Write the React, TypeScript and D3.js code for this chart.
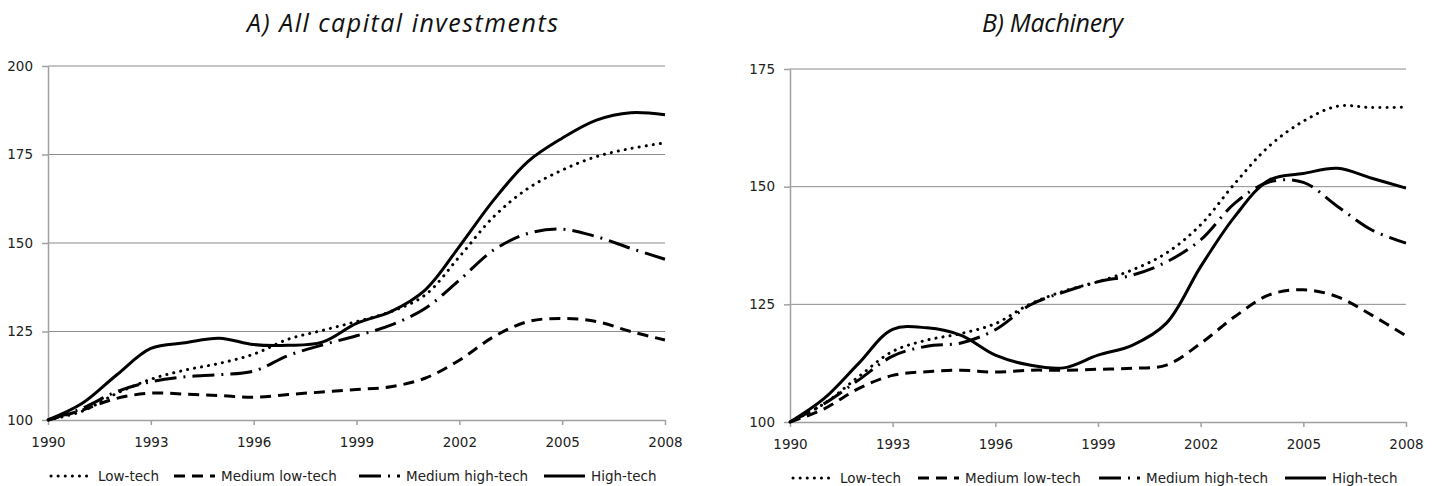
import React, { useEffect, useRef } from 'react';
import * as d3 from 'd3';

// years on the x axis
const years = [1990, 1991, 1992, 1993, 1994, 1995, 1996, 1997, 1998, 1999, 2000, 2001, 2002, 2003, 2004, 2005, 2006, 2007, 2008];
const yearTicks = [1990, 1993, 1996, 1999, 2002, 2005, 2008];

const seriesNames = ['Low-tech', 'Medium low-tech', 'Medium high-tech', 'High-tech'];

// A) All capital investments (index, 1990 = 100)
const allLowTech = [100, 102.5, 107.5, 111.5, 114.1, 116, 118.6, 122.8, 125.3, 127.8, 130.6, 135.3, 146.1, 157.4, 165.4, 170.6, 174.4, 176.7, 178.3];
const allMedLowTech = [100, 102.8, 106.1, 107.6, 107.3, 106.9, 106.4, 107.2, 107.9, 108.6, 109.4, 111.8, 116.9, 123.5, 127.8, 128.7, 127.8, 125, 122.6];
const allMedHighTech = [100, 103.3, 108, 110.8, 112.2, 112.8, 113.8, 118.2, 121.2, 123.8, 126.8, 131.5, 139.5, 148, 152.7, 153.9, 151.8, 148.5, 145.4];
const allHighTech = [100, 104.7, 112.7, 120.2, 121.8, 123.1, 121.3, 121.1, 122, 127.3, 130.6, 136.7, 149, 162.1, 173, 179.6, 184.7, 186.8, 186.2];
const allTicks = [100, 125, 150, 175, 200];

// B) Machinery (index, 1990 = 100)
const machLowTech = [100, 103.9, 109.6, 115, 117.4, 118.8, 120.9, 125, 127.8, 129.8, 132.3, 135.9, 141.9, 150.7, 158.6, 163.9, 167.1, 166.8, 166.9];
const machMedLowTech = [100, 102.8, 107.1, 109.9, 110.7, 111, 110.6, 111, 111, 111.2, 111.4, 112.1, 116.7, 122.4, 127, 128.1, 126.6, 122.7, 118.3];
const machMedHighTech = [100, 103.9, 108.9, 114, 116.1, 116.8, 119.6, 124.8, 127.6, 129.8, 131.2, 134, 138.7, 146.5, 151, 150.9, 145.8, 140.8, 138];
const machHighTech = [100, 105, 112.4, 119.7, 120, 118.4, 114.2, 112.1, 111.5, 114.2, 116.3, 121, 133, 143.7, 151.4, 152.8, 153.9, 151.8, 149.7];
const machTicks = [100, 125, 150, 175];

const dashes = ['0.1 7', '11 7', '22 7 2 7', null];

const panels = [
  {
    title: 'A) All capital investments', titleX: 247, titleW: 311,
    left: 48, right: 665, top: 66, bottom: 420,
    ticks: allTicks, series: [allLowTech, allMedLowTech, allMedHighTech, allHighTech],
    legendY: 476, legendX: [50, 173, 358, 543],
  },
  {
    title: 'B) Machinery', titleX: 982, titleW: 141,
    left: 790, right: 1406, top: 69, bottom: 422,
    ticks: machTicks, series: [machLowTech, machMedLowTech, machMedHighTech, machHighTech],
    legendY: 478, legendX: [792, 917, 1098, 1284],
  },
];

const labelFont = '"DejaVu Sans", Verdana, sans-serif';

const App = () => {
  const ref = useRef<SVGSVGElement>(null);

  useEffect(() => {
    if (!ref.current) return;
    const svg = d3.select(ref.current);
    svg.selectAll('*').remove();

    panels.forEach(p => {
      const x = d3.scaleLinear().domain([years[0], years[years.length - 1]]).range([p.left, p.right]);
      const y = d3.scaleLinear().domain([p.ticks[0], p.ticks[p.ticks.length - 1]]).range([p.bottom, p.top]);
      const g = svg.append('g');

      // title
      g.append('text')
        .attr('x', p.titleX)
        .attr('y', 32)
        .attr('textLength', p.titleW)
        .attr('lengthAdjust', 'spacing')
        .style('font-family', '"Open Sans", sans-serif')
        .style('font-style', 'italic')
        .style('font-size', '25px')
        .style('fill', '#111')
        .text(p.title);

      // gridlines
      g.selectAll('line.grid')
        .data(p.ticks.slice(1))
        .join('line')
        .attr('x1', p.left)
        .attr('x2', p.right)
        .attr('y1', d => y(d))
        .attr('y2', d => y(d))
        .attr('stroke', '#8c8c8c')
        .attr('stroke-width', 1);

      // axes
      const yAxis = g.append('g')
        .attr('transform', `translate(${p.left},0)`)
        .call(d3.axisLeft(y).tickValues(p.ticks).tickSize(6).tickSizeOuter(0).tickPadding(9).tickFormat(d3.format('d')));
      const xAxis = g.append('g')
        .attr('transform', `translate(0,${p.bottom})`)
        .call(d3.axisBottom(x).tickValues(yearTicks).tickSize(5).tickSizeOuter(0).tickPadding(12).tickFormat(d3.format('d')));

      [yAxis, xAxis].forEach(a => {
        a.selectAll('path, line').attr('stroke', '#a0a0a0').attr('stroke-width', 1.5);
        a.selectAll('text')
          .style('font-family', labelFont)
          .style('font-size', '13.5px')
          .style('fill', '#222');
      });

      // lines
      const line = d3.line<number>()
        .x((_, i) => x(years[i]))
        .y(d => y(d))
        .curve(d3.curveCatmullRom.alpha(0.5));

      p.series.forEach((s, i) => {
        g.append('path')
          .datum(s)
          .attr('d', line)
          .attr('fill', 'none')
          .attr('stroke', '#000')
          .attr('stroke-width', 3)
          .attr('stroke-linecap', i === 0 ? 'round' : 'butt')
          .attr('stroke-dasharray', dashes[i]);
      });

      // legend
      seriesNames.forEach((name, i) => {
        const lx = p.legendX[i];
        g.append('line')
          .attr('x1', lx + 1)
          .attr('x2', lx + 42)
          .attr('y1', p.legendY)
          .attr('y2', p.legendY)
          .attr('stroke', '#000')
          .attr('stroke-width', 3)
          .attr('stroke-linecap', i === 0 ? 'round' : 'butt')
          .attr('stroke-dasharray', dashes[i]);
        g.append('text')
          .attr('x', lx + 48)
          .attr('y', p.legendY)
          .attr('dy', '0.35em')
          .style('font-family', labelFont)
          .style('font-size', '13.5px')
          .style('fill', '#222')
          .text(name);
      });
    });
  }, []);

  return (
    <svg ref={ref} width={1440} height={486} style={{ position: 'absolute', left: 0, top: 0, background: '#fff' }} />
  );
};

export default App;
